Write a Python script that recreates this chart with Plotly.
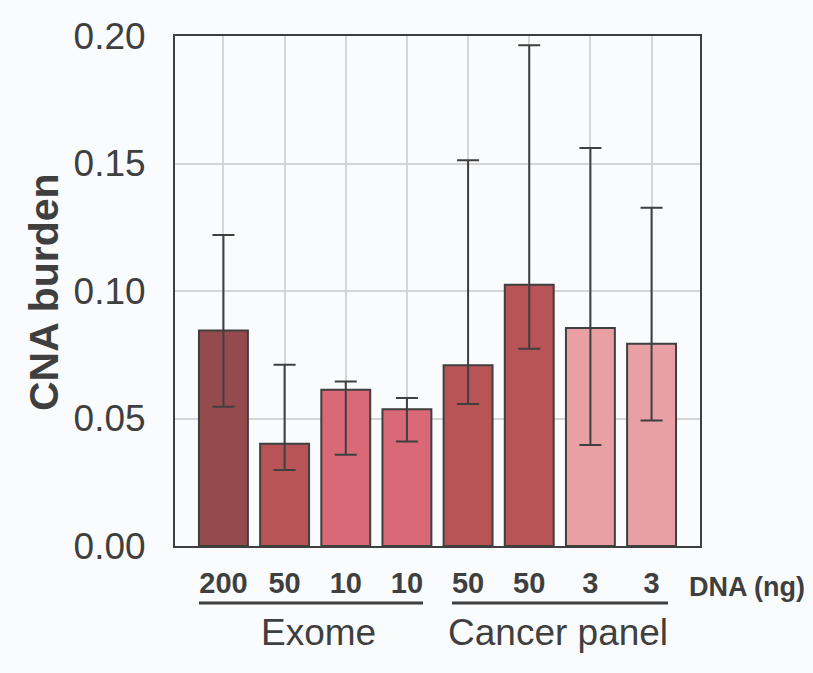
import plotly.graph_objects as go

# CNA burden per library, grouped by assay
dna_ng = ["200", "50", "10", "10", "50", "50", "3", "3"]
groups = ["Exome", "Cancer panel"]
cna_mean = [0.0845, 0.0401, 0.0613, 0.0536, 0.0709, 0.1025, 0.0855, 0.0793]
ci_upper = [0.1220, 0.0711, 0.0645, 0.0580, 0.1513, 0.1964, 0.1561, 0.1326]
ci_lower = [0.0546, 0.0298, 0.0358, 0.0410, 0.0557, 0.0774, 0.0396, 0.0492]
bar_colors = ["#954b4d", "#b85456", "#da6977", "#da6977",
              "#b85456", "#b85456", "#e8a0a4", "#e8a0a4"]

W, H = 813, 673
L, R, T, B = 175, 700, 36, 546  # plot area in pixels
BG = "#fafbfd"
INK = "#3f3f3f"
FONT = "Liberation Sans"

x = list(range(len(dna_ng)))
err_plus = [u - m for u, m in zip(ci_upper, cna_mean)]
err_minus = [m - l for m, l in zip(cna_mean, ci_lower)]

fig = go.Figure(
    go.Bar(
        x=x,
        y=cna_mean,
        width=0.8,
        marker=dict(color=bar_colors, line=dict(color=INK, width=2)),
        error_y=dict(
            type="data",
            symmetric=False,
            array=err_plus,
            arrayminus=err_minus,
            color=INK,
            thickness=2,
            width=11,
        ),
        showlegend=False,
    )
)


def px_x(p):
    return (p - L) / (R - L)


def px_y(p):
    return (B - p) / (B - T)


fig.update_layout(
    width=W,
    height=H,
    margin=dict(l=L, r=W - R, t=T, b=H - B, pad=0),
    paper_bgcolor=BG,
    plot_bgcolor=BG,
    font=dict(family=FONT, color=INK),
)

fig.update_xaxes(
    range=[-0.792, 7.792],
    tickvals=x,
    ticktext=dna_ng,
    tickfont=dict(size=29, weight="bold", color=INK),
    ticks="",
    ticklabelstandoff=10,
    showgrid=True,
    gridcolor="#d5d5d5",
    gridwidth=1.5,
    showline=True,
    mirror=True,
    linecolor=INK,
    linewidth=2,
    zeroline=False,
)

fig.update_yaxes(
    range=[0, 0.2],
    tickvals=[0, 0.05, 0.10, 0.15, 0.20],
    ticktext=["0.00", "0.05", "0.10", "0.15", "0.20"],
    tickfont=dict(size=37, color=INK),
    ticks="",
    ticklabelstandoff=20,
    showgrid=True,
    gridcolor="#d5d5d5",
    gridwidth=1.5,
    showline=True,
    mirror=True,
    linecolor=INK,
    linewidth=2,
    zeroline=False,
)

annotations = [
    dict(
        text="CNA burden",
        x=px_x(44), y=px_y(292), xref="paper", yref="paper",
        textangle=-90, showarrow=False,
        xanchor="center", yanchor="middle",
        font=dict(size=41, weight="bold", color=INK),
    ),
    dict(
        text="DNA (ng)",
        x=px_x(687), y=px_y(587), xref="paper", yref="paper",
        showarrow=False, xanchor="left", yanchor="middle",
        font=dict(size=27, weight="bold", color=INK),
    ),
]

# group underlines and names below the tick labels
underline_px = [(199, 423), (452, 668)]
label_centers_px = [318, 558]
shapes = []
for name, (x0, x1), cx in zip(groups, underline_px, label_centers_px):
    shapes.append(dict(
        type="line", xref="paper", yref="paper",
        x0=px_x(x0), x1=px_x(x1), y0=px_y(603), y1=px_y(603),
        line=dict(color=INK, width=3),
    ))
    annotations.append(dict(
        text=name,
        x=px_x(cx), y=px_y(632), xref="paper", yref="paper",
        showarrow=False, xanchor="center", yanchor="middle",
        font=dict(size=37, color=INK),
    ))

fig.update_layout(annotations=annotations, shapes=shapes)

fig.write_html("out.html")
